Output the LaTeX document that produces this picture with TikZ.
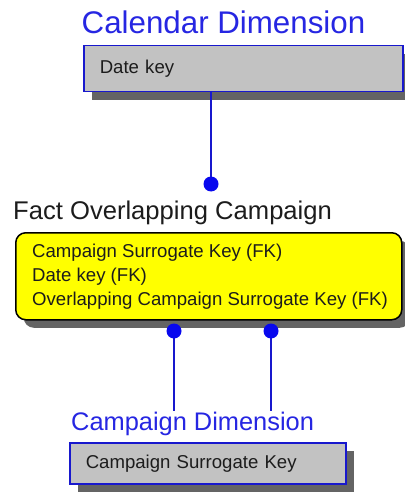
\documentclass[tikz,border=0pt]{standalone}
\usepackage{fontspec}
\setmainfont{Liberation Sans}
\usetikzlibrary{shadows}

\definecolor{titleblue}{RGB}{38,38,226}
\definecolor{linkblue}{RGB}{24,24,205}
\definecolor{dotblue}{RGB}{8,8,238}
\definecolor{entgray}{RGB}{194,194,194}
\definecolor{shadowgray}{RGB}{100,100,100}
\definecolor{factyellow}{RGB}{255,255,0}
\definecolor{inktext}{RGB}{28,28,28}

\begin{document}
\begin{tikzpicture}[x=1pt,y=-1pt,
  entitytitle/.style={anchor=base west, inner sep=0pt, font=\fontsize{#1}{#1}\selectfont},
  keyfont/.style={font=\fontsize{18.6}{24}\selectfont, text=inktext},
  boxshadow/.style={drop shadow={shadow xshift=8pt, shadow yshift=-8pt, fill=shadowgray, opacity=1}},
  dimbox/.style={draw=linkblue, line width=1.5pt, fill=entgray, anchor=north west,
    align=left, inner xsep=16pt, inner ysep=0pt, keyfont, boxshadow},
  factbox/.style={draw=black, line width=1.5pt, fill=factyellow, rounded corners=10pt,
    anchor=north west, inner sep=0pt, boxshadow},
  link/.style={draw=linkblue, line width=1.6pt},
  dot/.style={fill=dotblue}
]
\useasboundingbox (0,0) rectangle (404,494);

% Calendar dimension entity
\node[entitytitle=31.3, text=titleblue] (caltitle) at (81.5,34) {Calendar Dimension};
\node[dimbox, text width=287pt, minimum height=46pt] (cal) at (83,45) {Date key};

% Fact entity
\node[entitytitle=25.6, text=inktext] (facttitle) at (13,219) {Fact Overlapping Campaign};
\node[factbox, minimum width=386pt, minimum height=87pt] (fact) at (15,232) {};
\node[keyfont, anchor=west, align=left, inner sep=0pt] (factkeys) at ([xshift=17pt]fact.west)
  {Campaign Surrogate Key (FK)\\Date key (FK)\\Overlapping Campaign Surrogate Key (FK)};

% Campaign dimension entity
\node[entitytitle=25.4, text=titleblue] (camptitle) at (71,430) {Campaign Dimension};
\node[dimbox, text width=244pt, minimum height=41pt] (camp) at (69,442) {Campaign Surrogate Key};

% Relationship ends
\coordinate (d1) at (211,184);
\coordinate (d2) at (174,331);
\coordinate (d3) at (271,331);

\draw[link] (cal.south -| d1) -- (d1);
\draw[link] (d2) -- (d2 |- camptitle.north);
\draw[link] (d3) -- (d3 |- camptitle.north);

\fill[dot] (d1) circle (7.5pt);
\fill[dot] (d2) circle (7.5pt);
\fill[dot] (d3) circle (7.5pt);
\end{tikzpicture}
\end{document}
